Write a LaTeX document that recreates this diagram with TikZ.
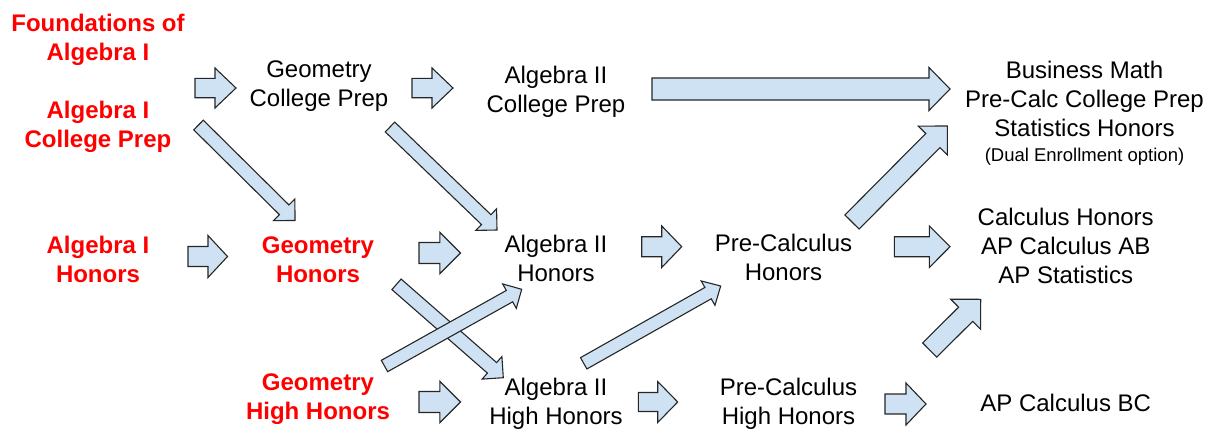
\documentclass[tikz,border=0pt]{standalone}
\usepackage{fontspec}
\setmainfont{Liberation Sans}
\usetikzlibrary{calc}
\definecolor{arrfill}{HTML}{CFE2F3}
\definecolor{arrline}{HTML}{262626}
\definecolor{redtxt}{HTML}{FF0000}
\tikzset{
  lbl/.style={inner sep=0pt, align=center, font=\fontsize{24}{29}\selectfont,
    execute at begin node=\strut, execute at end node=\strut},
  redlbl/.style={lbl, text=redtxt, font=\fontsize{24}{29}\selectfont\bfseries},
  blockarr/.style={fill=arrfill, draw=arrline, line width=1.1pt, line join=miter},
}
% #1 tail, #2 tip, #3 shaft half width, #4 head half width, #5 head length
\newcommand\blockarrow[5]{%
  \path ($(#2)!#5!(#1)$) coordinate (bh);
  \draw[blockarr] ($(#1)!#3!90:(#2)$) -- ($(bh)!#3!90:(#2)$) -- ($(bh)!#4!90:(#2)$)
    -- (#2) -- ($(bh)!#4!-90:(#2)$) -- ($(bh)!#3!-90:(#2)$) -- ($(#1)!#3!-90:(#2)$) -- cycle;
}
\begin{document}
\begin{tikzpicture}[x=1pt,y=-1pt]
\fill[white] (0,0) rectangle (1211,429);
\useasboundingbox (0,0) rectangle (1211,429);

% course nodes
\node[redlbl] (fa)   at (98,41.2)    {Foundations of\\Algebra I};
\node[redlbl] (acp)  at (98,128.4)   {Algebra I\\College Prep};
\node[redlbl] (ah)   at (98,263.3)   {Algebra I\\Honors};
\node[lbl]    (gcp)  at (319,88.3)   {Geometry\\College Prep};
\node[redlbl] (gh)   at (318,264)    {Geometry\\Honors};
\node[redlbl] (ghh)  at (318,400.5)  {Geometry\\High Honors};
\node[lbl]    (a2cp) at (556,93.4)   {Algebra II\\College Prep};
\node[lbl]    (a2h)  at (556,262.3)  {Algebra II\\Honors};
\node[lbl]    (a2hh) at (556,405.5)  {Algebra II\\High Honors};
\node[lbl]    (pch)  at (783.5,261.6) {Pre-Calculus\\Honors};
\node[lbl]    (pchh) at (788.5,406)  {Pre-Calculus\\High Honors};
\node[lbl]    (bm)   at (1084.5,115.5) {Business Math\\Pre-Calc College Prep\\Statistics Honors\\[-4.5pt]{\fontsize{18.5}{24}\selectfont (Dual Enrollment option)}};
\node[lbl]    (calc) at (1065.7,249.7) {Calculus Honors\\AP Calculus AB\\AP Statistics};
\node[lbl]    (bc)   at (1065.7,406) {AP Calculus BC};

% arrow end points
\coordinate (a1s) at (195,88);     \coordinate (a1e) at (236,88);
\coordinate (a2s) at (412,88);     \coordinate (a2e) at (453,88);
\coordinate (a3s) at (652,89);     \coordinate (a3e) at (950,89);
\coordinate (a4s) at (198.5,125);  \coordinate (a4e) at (295,220.5);
\coordinate (a5s) at (390,127);    \coordinate (a5e) at (497,230);
\coordinate (a6s) at (188,256.5);  \coordinate (a6e) at (227.5,256.5);
\coordinate (a7s) at (419,253);    \coordinate (a7e) at (460.5,253);
\coordinate (a8s) at (419,402);    \coordinate (a8e) at (460.5,402);
\coordinate (a9s) at (396.5,284.3); \coordinate (a9e) at (503.3,377.7);
\coordinate (a10s) at (384.5,366); \coordinate (a10e) at (521.7,289.3);
\coordinate (a11s) at (583.7,363.3); \coordinate (a11e) at (720.7,286);
\coordinate (a12s) at (641.7,246.7); \coordinate (a12e) at (681.7,246.7);
\coordinate (a13s) at (638.3,402); \coordinate (a13e) at (677.7,402);
\coordinate (a14s) at (894.3,246.7); \coordinate (a14e) at (950,246.7);
\coordinate (a15s) at (885,404);   \coordinate (a15e) at (926,404);
\coordinate (a16s) at (852,222);   \coordinate (a16e) at (947.3,126);
\coordinate (a17s) at (929.7,350); \coordinate (a17e) at (980.7,299.3);

% block arrows
\blockarrow{a1s}{a1e}{9.7pt}{20pt}{21pt}
\blockarrow{a2s}{a2e}{9.7pt}{20pt}{21pt}
\blockarrow{a3s}{a3e}{11pt}{21.5pt}{21pt}
\blockarrow{a4s}{a4e}{6.8pt}{15.2pt}{15.2pt}
\blockarrow{a5s}{a5e}{6.8pt}{15pt}{15pt}
\blockarrow{a6s}{a6e}{10pt}{21pt}{19.5pt}
\blockarrow{a7s}{a7e}{10.5pt}{20.7pt}{20.7pt}
\blockarrow{a8s}{a8e}{10.5pt}{20.7pt}{20.7pt}
\blockarrow{a9s}{a9e}{7pt}{15pt}{15pt}
\blockarrow{a10s}{a10e}{6.5pt}{14pt}{14pt}
\blockarrow{a11s}{a11e}{6.5pt}{14pt}{14.5pt}
\blockarrow{a12s}{a12e}{10pt}{20.8pt}{20pt}
\blockarrow{a13s}{a13e}{9.5pt}{20.5pt}{20pt}
\blockarrow{a14s}{a14e}{10pt}{20.8pt}{20.7pt}
\blockarrow{a15s}{a15e}{10pt}{21pt}{20pt}
\blockarrow{a16s}{a16e}{10pt}{20.5pt}{20.5pt}
\blockarrow{a17s}{a17e}{10pt}{21.2pt}{21.2pt}
\end{tikzpicture}
\end{document}
